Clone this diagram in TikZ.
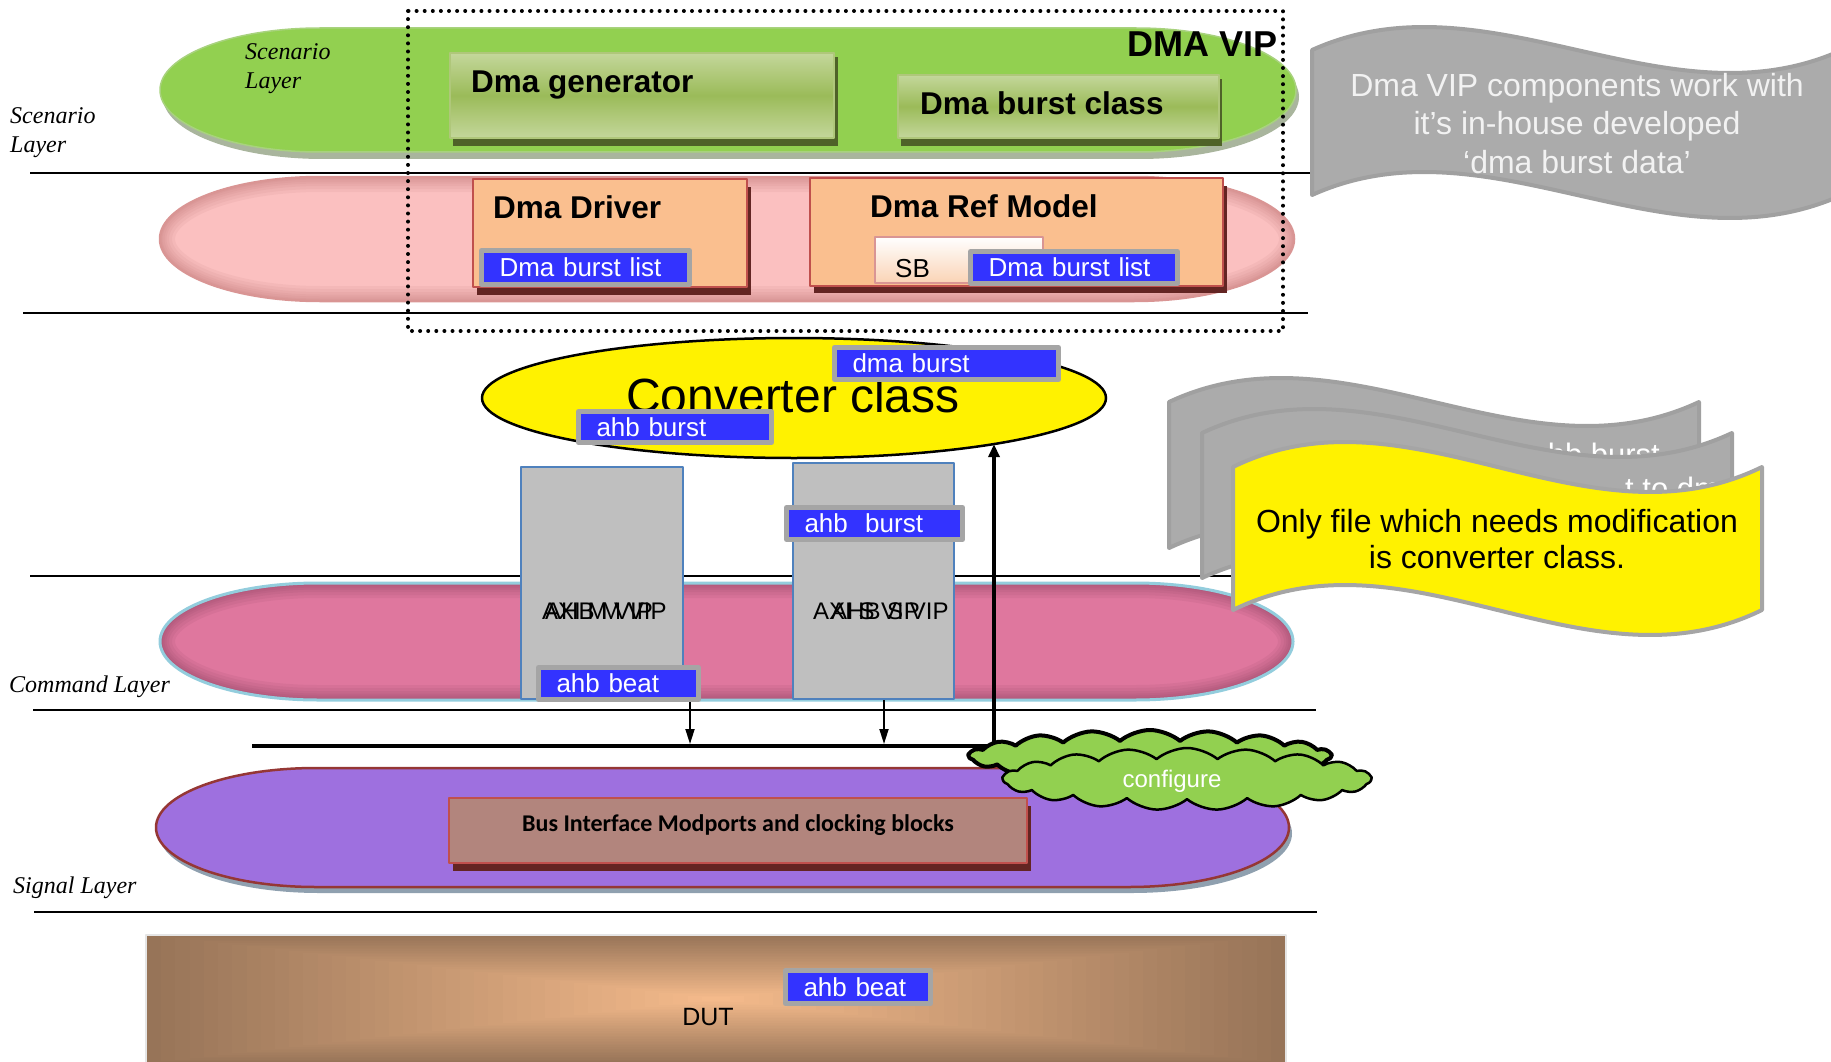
\documentclass[tikz,border=0pt]{standalone}
\usepackage{fontspec}
\setmainfont{Liberation Sans}
\newfontfamily\layerfont{Liberation Serif}
\newfontfamily\calfont{Carlito}
\usetikzlibrary{shapes.geometric,shapes.symbols,arrows.meta}

\definecolor{scengreen}{HTML}{92D050}
\definecolor{scenshadow}{HTML}{A9B59D}
\definecolor{scenedge}{HTML}{A8D27E}
\definecolor{genlight}{HTML}{C4D79B}
\definecolor{genmid}{HTML}{9BBB59}
\definecolor{genshadow}{HTML}{4F6228}
\definecolor{genedge}{HTML}{AFC77A}
\definecolor{drvpink}{HTML}{FBC0C0}
\definecolor{drvpinkedge}{HTML}{D99594}
\definecolor{drvpinkglow}{HTML}{B86E6E}
\definecolor{peach}{HTML}{FABF8F}
\definecolor{boxred}{HTML}{C0504D}
\definecolor{boxshadow}{HTML}{632523}
\definecolor{sbpeach}{HTML}{FAD3B5}
\definecolor{chipblue}{HTML}{3333FF}
\definecolor{chipgray}{HTML}{A5A5A5}
\definecolor{cmdpink}{HTML}{DF779E}
\definecolor{cmdglow}{HTML}{7E3A56}
\definecolor{cmdedge}{HTML}{93CDDD}
\definecolor{vipgray}{HTML}{BFBFBF}
\definecolor{vipedge}{HTML}{4F81BD}
\definecolor{sigpurple}{HTML}{9E70DF}
\definecolor{sigedge}{HTML}{953735}
\definecolor{sigshadow}{HTML}{8FA0AF}
\definecolor{busbox}{HTML}{B2857D}
\definecolor{dutbrown}{HTML}{977458}
\definecolor{dutpeach}{HTML}{F4BA8B}
\definecolor{bannergray}{HTML}{ABABAB}
\definecolor{banneredge}{HTML}{A0A0A0}
\definecolor{bannertext}{HTML}{F2F2F2}

% pill shape with elliptic ends: x1 y1 x2 y2 end-radius
\newcommand\pillpath[5]{({#1+#5},#2) -- ({#3-#5},#2)
 .. controls ({#3-0.4477*#5},#2) and (#3,{(#2+#4)/2-0.5523*(#4-#2)/2}) .. (#3,{(#2+#4)/2})
 .. controls (#3,{(#2+#4)/2+0.5523*(#4-#2)/2}) and ({#3-0.4477*#5},#4) .. ({#3-#5},#4)
 -- ({#1+#5},#4)
 .. controls ({#1+0.4477*#5},#4) and (#1,{(#2+#4)/2+0.5523*(#4-#2)/2}) .. (#1,{(#2+#4)/2})
 .. controls (#1,{(#2+#4)/2-0.5523*(#4-#2)/2}) and ({#1+0.4477*#5},#2) .. ({#1+#5},#2)
 -- cycle}

% wavy banner: left top width height amplitude
\newcommand\wavepath[5]{(#1,#2) .. controls ({#1+#3/3},{#2-3.46*#5}) and ({#1+2*#3/3},{#2+3.46*#5}) .. ({#1+#3},#2)
 -- ({#1+#3},{#2+#4}) .. controls ({#1+2*#3/3},{#2+#4+3.46*#5}) and ({#1+#3/3},{#2+#4-3.46*#5}) .. (#1,{#2+#4}) -- cycle}

% darker rim inside a pill: colour x1 y1 x2 y2 radius
\newcommand\innerglow[6]{%
 \begin{scope}
  \clip \pillpath{#2}{#3}{#4}{#5}{#6};
  \foreach \w in {30,24,18,13,9,5}{
   \draw[#1, line width=\w pt, opacity=0.09] \pillpath{#2}{#3}{#4}{#5}{#6};
  }
 \end{scope}}

\begin{document}
\begin{tikzpicture}[x=1pt,y=-1pt,line join=round,
  rule/.style={line width=2pt},
  laylabel/.style={font=\layerfont\itshape\fontsize{24}{29}\selectfont, inner sep=0pt, anchor=base west},
  boldtitle/.style={font=\fontsize{31.5}{38}\selectfont\bfseries, inner sep=0pt, anchor=base west},
  plainbox/.style={rectangle, anchor=north west, inner sep=0pt, outer sep=0pt},
  genbox/.style={plainbox, top color=genlight, bottom color=genlight, middle color=genmid, draw=genedge, line width=1.5pt},
  redbox/.style={plainbox, fill=peach, draw=boxred, line width=2.5pt},
  vipbox/.style={plainbox, fill=vipgray, draw=vipedge, line width=2.5pt},
  chip/.style={rectangle, fill=chipblue, draw=chipgray, line width=5pt, outer sep=2.5pt, text=white,
    font=\fontsize{26}{30}\selectfont, inner xsep=18pt, inner ysep=0pt, align=left, anchor=north west},
  vipname/.style={font=\fontsize{24}{28}\selectfont, inner sep=0pt, anchor=base west},
  bannerline/.style={font=\fontsize{32}{38}\selectfont, inner sep=0pt, anchor=base},
  vipdots/.style={line width=4pt, line cap=round, dash pattern=on 0pt off 8.1pt},
  busline/.style={line width=4pt, -{Triangle[length=13pt,width=11pt]}},
  droparrow/.style={line width=1.8pt, -{Triangle[length=15pt,width=9pt]}, shorten >=2pt},
  puffcloud/.style={cloud, cloud puffs=19, cloud puff arc=80, draw=black, fill=scengreen, inner sep=0pt},
]
\useasboundingbox (0,0) rectangle (1831,1062);
\clip (0,0) rectangle (1831,1062);

% layer separators
\draw[rule] (30,173) -- (1310,173);
\draw[rule] (23,313) -- (1308,313);
\draw[rule] (30,576) -- (1300,576);
\draw[rule] (33,710) -- (1316,710);
\draw[rule] (34,912) -- (1317,912);

% scenario layer band
\fill[scenshadow, shift={(3,7)}] \pillpath{160}{28}{1296}{152}{160};
\fill[scengreen] \pillpath{160}{28}{1296}{152}{160};
\draw[scenedge, line width=1.5pt] \pillpath{160}{28}{1296}{152}{160};

% driver layer band
\fill[drvpink] \pillpath{160}{177}{1294}{301}{160};
\innerglow{drvpinkglow}{160}{177}{1294}{301}{160}
\draw[drvpinkedge, line width=2.5pt] \pillpath{160}{177}{1294}{301}{160};

% command layer band
\fill[cmdpink] \pillpath{160}{583}{1293}{700}{158};
\innerglow{cmdglow}{160}{583}{1293}{700}{158}
\draw[cmdedge, line width=3pt] \pillpath{160}{583}{1293}{700}{158};

% signal layer band
\fill[sigshadow, shift={(3,6)}] \pillpath{156}{768}{1289}{887}{160};
\fill[sigpurple] \pillpath{156}{768}{1289}{887}{160};
\draw[sigedge, line width=2.5pt] \pillpath{156}{768}{1289}{887}{160};

% DUT block with a rectangular centre-out gradient
\begin{scope}
 \clip (147,936) rectangle (1285,1062);
 \foreach \i in {0,...,39}{
  \pgfmathsetmacro\s{1-\i/40}
  \pgfmathsetmacro\p{100*\i/39}
  \fill[dutpeach!\p!dutbrown] ({716-569*\s},{999-64*\s}) rectangle ({716+569*\s},{999+64*\s});
 }
\end{scope}
\draw[black!10, line width=2pt] (146,1062) -- (146,935) -- (1286,935) -- (1286,1062);
\node[inner sep=0pt, anchor=base, font=\fontsize{25}{30}\selectfont] (dut) at (708,1025) {DUT};
\node[chip, text width=109pt, minimum height=33pt] (dutbeat) at (783,968) {ahb beat};

% scenario components
\fill[genshadow] (453,57) rectangle (838,146);
\node[genbox, minimum width=384pt, minimum height=85pt] (gen) at (450,53) {};
\node[boldtitle] (gentext) at (471,93) {Dma generator};
\fill[genshadow] (901,79) rectangle (1222,146);
\node[genbox, minimum width=321pt, minimum height=63pt] (burstcls) at (898,75) {};
\node[boldtitle] (bursttext) at (920,115) {Dma burst class};

% driver and reference model
\fill[boxshadow] (477,187) rectangle (751,295);
\node[redbox, minimum width=274pt, minimum height=108pt] (drv) at (473,179) {};
\node[boldtitle] (drvtext) at (493,218) {Dma Driver};
\node[chip, text width=172pt, minimum height=34pt] (drvlist) at (479,248) {Dma burst list};

\fill[boxshadow] (814,186) rectangle (1227,293);
\node[redbox, minimum width=413pt, minimum height=108pt] (ref) at (810,178) {};
\node[boldtitle] (reftext) at (870,217) {Dma Ref Model};
\node[plainbox, top color=white, bottom color=sbpeach, draw=drvpinkedge, line width=2pt,
      minimum width=168pt, minimum height=46pt] (sb) at (875,237) {};
\node[inner sep=0pt, anchor=base west, font=\fontsize{26}{30}\selectfont] (sbtext) at (895,277) {SB};
\node[chip, text width=171pt, minimum height=32pt] (reflist) at (968,249) {Dma burst list};

% VIP boundary
\draw[vipdots] (408,11) rectangle (1283,331);
\node[inner sep=0pt, anchor=base east, font=\fontsize{36}{40}\selectfont\bfseries] (viptitle) at (1278,57) {DMA VIP};

% converter
\node[ellipse, draw=black, line width=2.5pt, fill=yellow, minimum width=624pt, minimum height=120pt,
      inner sep=0pt, outer sep=0pt] (conv) at (794,398) {};
\node[inner sep=0pt, anchor=base, font=\fontsize{48}{52}\selectfont] (convtext) at (793,412) {Converter class};
\node[chip, text width=188pt, minimum height=32pt] (dmaburst) at (832,345) {dma burst};
\node[chip, text width=157pt, minimum height=31pt] (ahbburst) at (576,409) {ahb burst};

% master and slave VIPs
\node[vipbox, minimum width=162pt, minimum height=232pt] (mvip) at (521,467) {};
\node[vipname] (mvipaxi) at (542,619) {AXI M VIP};
\node[vipname] (mvipahb) at (545,619) {AHB M VIP};
\node[chip, text width=124pt, minimum height=32pt] (mbeat) at (536,665) {ahb beat};

\node[vipbox, minimum width=161pt, minimum height=236pt] (svip) at (793,463) {};
\node[vipname] (svipaxi) at (813,619) {AXI S VIP};
\node[vipname] (svipahb) at (831,619) {AHB S VIP};
\node[chip, text width=140pt, minimum height=32pt] (sburst) at (784,505) {ahb~\ burst};

% bus and arrows
\coordinate (busL) at (252,746);
\coordinate (busR) at (994,746);
\coordinate (mdrop) at (690,702);
\coordinate (sdrop) at (884,700);
\draw[busline] (busL) -- (busR) -- (busR |- conv.-13);
\draw[droparrow] (mdrop) -- (mdrop |- busL);
\draw[droparrow] (sdrop) -- (sdrop |- busL);

% signal layer block
\fill[boxshadow] (453,806) rectangle (1031,871);
\node[redbox, fill=busbox, minimum width=578pt, minimum height=65pt] (busif) at (449,798) {};
\node[inner sep=0pt, anchor=base, font=\calfont\bfseries\fontsize{24}{28}\selectfont] (bustext) at (738,831)
  {Bus Interface Modports and clocking blocks};

% configure cloud
\node[puffcloud, aspect=7, line width=4pt, minimum width=362pt, minimum height=52pt] (cloudback) at (1150,756) {};
\node[puffcloud, aspect=6.2, line width=2.5pt, minimum width=368pt, minimum height=62pt] (cloudfront) at (1187,779) {};
\node[inner sep=0pt, anchor=base, text=white, font=\fontsize{24}{28}\selectfont] (cfg) at (1172,787) {configure};

% note banners
\filldraw[fill=bannergray, draw=banneredge, line width=4pt] \wavepath{1312}{50}{530}{145}{23};
\node[bannerline, text=bannertext] (note1a) at (1577,97) {Dma VIP components work with};
\node[bannerline, text=bannertext] (note1b) at (1577,135) {it’s in-house developed};
\node[bannerline, text=bannertext] (note1c) at (1577,173) {‘dma burst data’};

\filldraw[fill=bannergray, draw=banneredge, line width=4pt] \wavepath{1169}{402}{530}{146}{24};
\node[inner sep=0pt, anchor=base east, text=white, font=\fontsize{31}{36}\selectfont] (stack1) at (1660,465) {ahb burst};
\filldraw[fill=bannergray, draw=banneredge, line width=4pt] \wavepath{1202}{433}{530}{145}{24};
\node[inner sep=0pt, anchor=base west, text=white, font=\fontsize{31}{36}\selectfont] (stack2) at (1625,499) {t to dma};
\filldraw[fill=yellow, draw=chipgray, line width=4pt] \wavepath{1233}{467}{529}{143}{25};
\node[bannerline] (note2a) at (1497,532) {Only file which needs modification};
\node[bannerline] (note2b) at (1497,568) {is converter class.};

% layer labels
\node[laylabel] (scenA1) at (10,124) {Scenario};
\node[laylabel] (scenA2) at (10,153) {Layer};
\node[laylabel] (scenB1) at (245,60) {Scenario};
\node[laylabel] (scenB2) at (245,89) {Layer};
\node[laylabel] (cmdlbl) at (9,692) {Command Layer};
\node[laylabel] (siglbl) at (13,893) {Signal Layer};
\end{tikzpicture}
\end{document}
